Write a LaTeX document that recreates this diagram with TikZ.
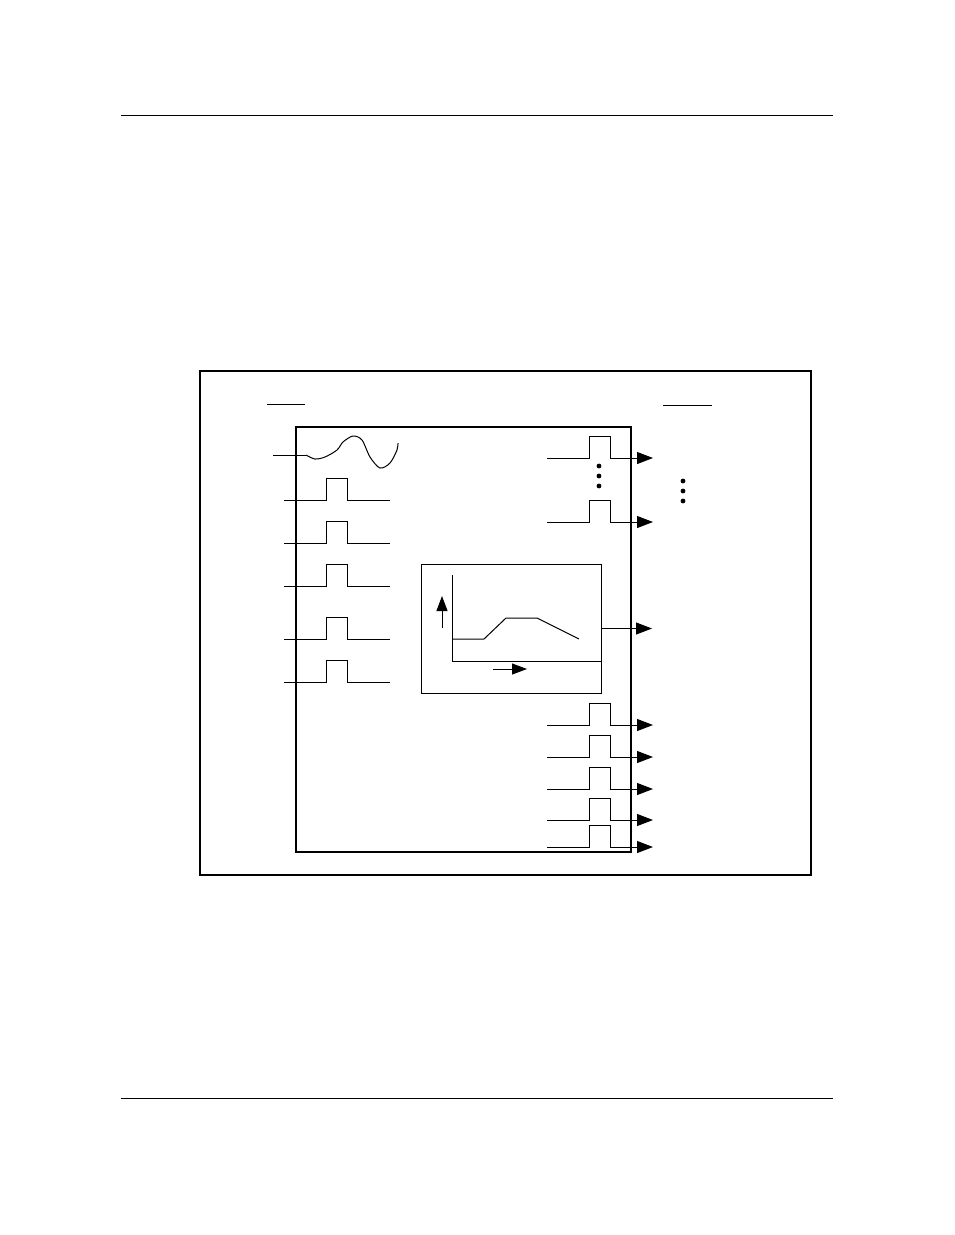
\documentclass[tikz,border=0pt]{standalone}
\usepackage{tikz}
\usetikzlibrary{arrows.meta}
\usetikzlibrary{positioning}
\usetikzlibrary{calc}

\tikzset{
	sig/.style={line width=1pt},
	frame/.style={line width=1.3pt},
	outarrow/.style={line width=1pt, -{Triangle[length=16pt,width=12pt]}},
	axarrow/.style={line width=1pt, -{Triangle[length=15pt,width=11pt]}},
}

\begin{document}
\begin{tikzpicture}[x=1pt,y=-1pt]
		\useasboundingbox (0,0) rectangle (954,1235);

		%page rules
		\draw [line width=1pt] (121,115) -- (833,115);
		\draw [line width=1pt] (121,1098) -- (833,1098);

		%outer frame and unit box
		\draw [frame] (200,371) rectangle (811,875);
		\draw [frame] (296,427) rectangle (631,852);
		\draw [line width=1.8pt] (296,427) -- (296,852);

		%heading rules
		\draw [line width=1pt] (267,404) -- (305,404);
		\draw [line width=1pt] (663,405) -- (712,405);

		%analog input
		\draw [sig] (273,455) -- (306,455);
		\draw [sig] plot [smooth] coordinates {(306,455) (315,459) (325,457) (337,450) (343,442) (353,436) (362,440) (370,457) (380,468) (390,463) (397,450) (398,443)};

		%pulse inputs
		\foreach \y in {500,543,586,639,682}
		\draw [sig] (284,\y) -- (326,\y) -- ++(0,-22) -- ++(21,0) -- ++(0,22) -- (390,\y);

		%pulse outputs
		\foreach \y/\n in {458/1,522/2,725/3,757/4,789/5,820/6,847/7} {
			\draw [sig] (547,\y) -- (589,\y) -- ++(0,-22) -- ++(21,0) -- ++(0,22) coordinate (p\n);
			\coordinate (o\n) at (653,\y);
			\draw [outarrow] (p\n) -- (o\n);
		}

		%dots
		\foreach \y in {466,476,486}
		\fill (599,\y) circle (2.4pt);
		\foreach \y in {481,491,501}
		\fill (683,\y) circle (2.4pt);

		%profile box
		\node [draw, line width=1pt, minimum width=180pt, minimum height=129pt, inner sep=0pt] (graph) at (511,628.5) {};
		\coordinate (yaxis) at (452,575);
		\coordinate (origin) at (452,661);
		\draw [sig] (yaxis) -- (origin) -- (graph.east |- origin);
		\draw [sig] (452,639) -- (484,639) -- (506,618) -- (537,618) -- (579,639);
		\coordinate (up0) at (442,628);
		\coordinate (up1) at (442,596);
		\draw [axarrow] (up0) -- (up1);
		\coordinate (rt0) at (493,669);
		\coordinate (rt1) at (527,669);
		\draw [axarrow] (rt0) -- (rt1);

		%profile output
		\coordinate (o8) at (652,628.5);
		\draw [outarrow] (graph.east) -- (o8);
	\end{tikzpicture}
\end{document}
